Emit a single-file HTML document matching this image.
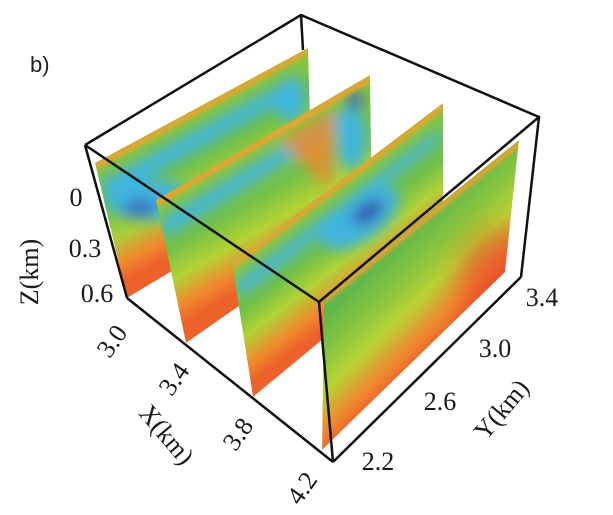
<!DOCTYPE html>
<html><head><meta charset="utf-8"><style>
html,body{margin:0;padding:0;background:#fff;}
svg{display:block;}
.s{font-family:"Liberation Serif",serif;font-size:26px;fill:#1a1a1a;}
</style></head><body>
<svg width="613" height="515" viewBox="0 0 613 515" xmlns="http://www.w3.org/2000/svg">
<defs>
<filter id="bl" x="-50%" y="-50%" width="200%" height="200%"><feGaussianBlur stdDeviation="7"/></filter>
<filter id="bl3" x="-50%" y="-50%" width="200%" height="200%"><feGaussianBlur stdDeviation="15"/></filter>
<filter id="bl2" x="-50%" y="-50%" width="200%" height="200%"><feGaussianBlur stdDeviation="2"/></filter>
<linearGradient id="g1" gradientUnits="userSpaceOnUse" x1="200" y1="106" x2="256" y2="211">
<stop offset="0" stop-color="#8cc63f"/><stop offset="0.35" stop-color="#6cbf4a"/><stop offset="0.65" stop-color="#a9cf38"/><stop offset="0.85" stop-color="#f08a2e"/><stop offset="1" stop-color="#ec622a"/></linearGradient>
<linearGradient id="g2" gradientUnits="userSpaceOnUse" x1="263" y1="137" x2="324" y2="242">
<stop offset="0" stop-color="#8cc63f"/><stop offset="0.4" stop-color="#72c048"/><stop offset="0.65" stop-color="#b3d234"/><stop offset="0.85" stop-color="#f08a2e"/><stop offset="1" stop-color="#ec622a"/></linearGradient>
<linearGradient id="g3" gradientUnits="userSpaceOnUse" x1="337" y1="183" x2="402" y2="269">
<stop offset="0" stop-color="#8cc63f"/><stop offset="0.4" stop-color="#70bf48"/><stop offset="0.62" stop-color="#b0d236"/><stop offset="0.85" stop-color="#f08a2e"/><stop offset="1" stop-color="#ec622a"/></linearGradient>
<linearGradient id="g4" gradientUnits="userSpaceOnUse" x1="420" y1="220" x2="498" y2="300">
<stop offset="0" stop-color="#5db84a"/><stop offset="0.3" stop-color="#8dc63f"/><stop offset="0.5" stop-color="#b8d333"/><stop offset="0.75" stop-color="#ef8a2e"/><stop offset="1" stop-color="#e9462a"/></linearGradient>
<clipPath id="c1"><polygon points="95,163 308,48 312,187 127,298"/></clipPath>
<clipPath id="c2"><polygon points="156,200 370,75 372,213 186,343"/></clipPath>
<clipPath id="c3"><polygon points="232,263 443,103 443,240 253,397"/></clipPath>
<clipPath id="c4"><polygon points="324,297 519,140 505,272 322,450"/></clipPath>
</defs>

<g clip-path="url(#c1)">
<polygon points="95,163 308,48 312,187 127,298" fill="url(#g1)"/>
<g filter="url(#bl)">
<polygon points="100,182 300,74 300,92 108,200" fill="#3fb5df"/>
<ellipse cx="150" cy="200" rx="45" ry="20" fill="#3fb5df"/>
<ellipse cx="140" cy="208" rx="16" ry="9" fill="#3a6cc0"/>
<ellipse cx="290" cy="100" rx="15" ry="22" fill="#3fb5df"/>
</g>
<polygon points="95,163 308,48 308,54 95,170" fill="#f0a030" filter="url(#bl2)"/>
</g>
<g clip-path="url(#c2)">
<polygon points="156,200 370,75 372,213 186,343" fill="url(#g2)"/>
<g filter="url(#bl)">
<polygon points="160,220 360,100 360,116 165,238" fill="#3fb5df"/>
<polygon points="280,140 335,110 330,190" fill="#ef8a2e" opacity="0.85"/>
<ellipse cx="352" cy="140" rx="14" ry="30" fill="#3fb5df"/>
<ellipse cx="355" cy="100" rx="7" ry="10" fill="#3a5cc0"/>
</g>
<polygon points="156,200 370,75 370,82 156,207" fill="#f0a030" filter="url(#bl2)"/>
</g>
<g clip-path="url(#c3)">
<polygon points="232,263 443,103 443,240 253,397" fill="url(#g3)"/>
<g filter="url(#bl)">
<polygon points="235,283 440,128 440,142 240,298" fill="#3fb5df"/>
<ellipse cx="360" cy="218" rx="45" ry="22" fill="#3fb5df" transform="rotate(-35 360 218)"/>
<ellipse cx="368" cy="212" rx="18" ry="9" fill="#3550b0" transform="rotate(-35 368 212)"/>
</g>
<polygon points="232,263 443,103 443,110 232,270" fill="#f0a030" filter="url(#bl2)"/>
</g>
<g clip-path="url(#c4)">
<polygon points="324,297 519,140 505,272 322,450" fill="url(#g4)"/>
<ellipse cx="500" cy="280" rx="40" ry="50" fill="#e8402a" opacity="0.55" filter="url(#bl3)"/>
<polygon points="324,297 519,140 519,147 324,304" fill="#f0a030" filter="url(#bl2)"/>
</g>

<g stroke="#111" stroke-width="2.5" fill="none" stroke-linejoin="round">
<polyline points="85,145 301,15 539,117 319,302 85,145"/>
<line x1="301" y1="15" x2="303" y2="50"/>
<line x1="85" y1="145" x2="127" y2="298"/>
<line x1="127" y1="298" x2="333" y2="462"/>
<line x1="319" y1="302" x2="333" y2="462"/>
<line x1="333" y1="462" x2="521" y2="277"/>
<line x1="539" y1="117" x2="521" y2="277"/>
</g>

<text x="30" y="72" style="font-family:'Liberation Sans',sans-serif;font-size:22px;fill:#222">b)</text>
<text class="s" x="76" y="206" text-anchor="middle">0</text>
<text class="s" x="85" y="257" text-anchor="middle">0.3</text>
<text class="s" x="97" y="302" text-anchor="middle">0.6</text>
<text class="s" transform="translate(38,272) rotate(-90)" text-anchor="middle">Z(km)</text>
<text class="s" transform="translate(119,346) rotate(-55)" text-anchor="middle">3.0</text>
<text class="s" transform="translate(181,384) rotate(-55)" text-anchor="middle">3.4</text>
<text class="s" transform="translate(245,439) rotate(-55)" text-anchor="middle">3.8</text>
<text class="s" transform="translate(309,493) rotate(-55)" text-anchor="middle">4.2</text>
<text class="s" transform="translate(160,440) rotate(50)" text-anchor="middle">X(km)</text>
<text class="s" x="378" y="470" text-anchor="middle">2.2</text>
<text class="s" x="440" y="410" text-anchor="middle">2.6</text>
<text class="s" x="495" y="357" text-anchor="middle">3.0</text>
<text class="s" x="542" y="306" text-anchor="middle">3.4</text>
<text class="s" transform="translate(508,415) rotate(-50)" text-anchor="middle">Y(km)</text>
</svg>
</body></html>
